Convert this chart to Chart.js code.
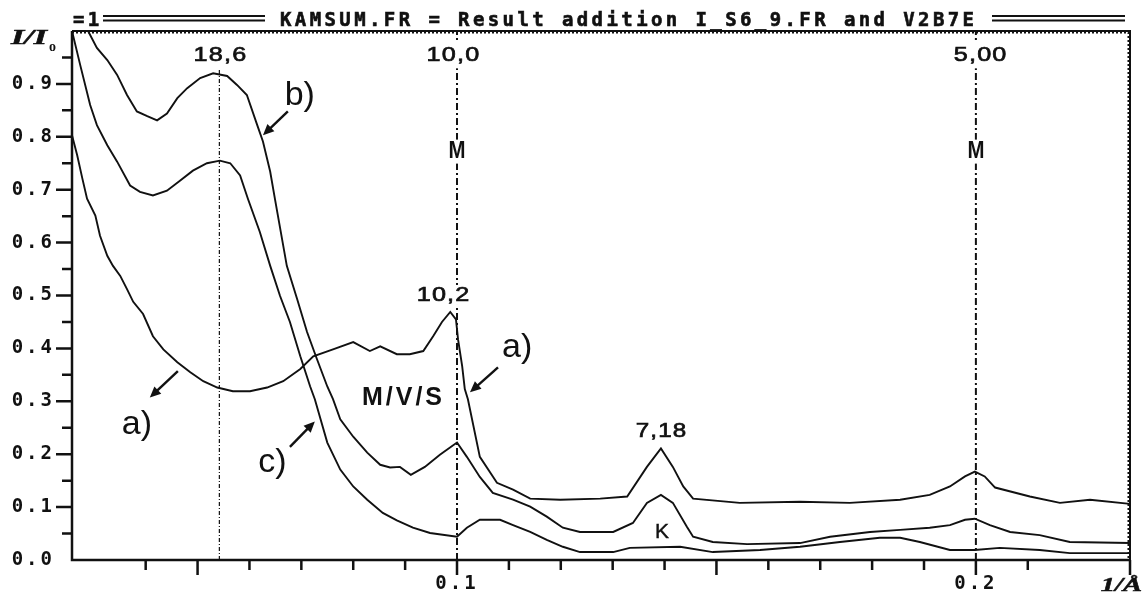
<!DOCTYPE html>
<html>
<head>
<meta charset="utf-8">
<script src="https://cdn.jsdelivr.net/npm/chart.js@4.4.0/dist/chart.umd.min.js"></script>
<style>
  html, body { margin: 0; padding: 0; background: #fff; }
  #wrap { width: 1144px; height: 593px; position: relative; }
</style>
</head>
<body>
<div id="wrap"><canvas id="xrd"></canvas></div>
<script>
// scan a) : 1/d (1/A) and I/Io
const qA = [0.0258, 0.0268, 0.0278, 0.0287, 0.0303, 0.0312, 0.0326, 0.0337, 0.0351, 0.0364, 0.0376, 0.0395,
  0.0414, 0.0434, 0.0461, 0.0486, 0.0511, 0.0538, 0.0568, 0.0601, 0.0634, 0.0665, 0.0698, 0.0723, 0.0761,
  0.0800, 0.0832, 0.0852, 0.0884, 0.0909, 0.0935, 0.0954, 0.0971, 0.0987, 0.0998, 0.1002, 0.1010, 0.1015,
  0.1021, 0.1044, 0.1077, 0.1108, 0.1141, 0.1199, 0.1276, 0.1328, 0.1366, 0.1393, 0.1416, 0.1436, 0.1455,
  0.1545, 0.1661, 0.1757, 0.1854, 0.1911, 0.1950, 0.1979, 0.1998, 0.2017, 0.2037, 0.2104, 0.2162, 0.2220, 0.2297];
const iA = [0.803, 0.765, 0.721, 0.683, 0.651, 0.613, 0.575, 0.556, 0.537, 0.512, 0.488, 0.465,
  0.423, 0.398, 0.374, 0.355, 0.338, 0.326, 0.319, 0.319, 0.326, 0.338, 0.361, 0.385, 0.398,
  0.412, 0.395, 0.404, 0.389, 0.389, 0.395, 0.423, 0.450, 0.469, 0.455, 0.417, 0.366, 0.323,
  0.304, 0.195, 0.146, 0.133, 0.116, 0.114, 0.116, 0.120, 0.176, 0.211, 0.176, 0.139, 0.116,
  0.108, 0.110, 0.108, 0.114, 0.123, 0.139, 0.158, 0.167, 0.158, 0.137, 0.120, 0.108, 0.114, 0.106];

// scan b)
const qB = [0.0258, 0.0289, 0.0306, 0.0326, 0.0345, 0.0364, 0.0383, 0.0403, 0.0422, 0.0441, 0.0461, 0.0480,
  0.0505, 0.0530, 0.0557, 0.0576, 0.0595, 0.0615, 0.0626, 0.0640, 0.0649, 0.0672, 0.0692, 0.0711, 0.0730,
  0.0750, 0.0761, 0.0775, 0.0800, 0.0827, 0.0852, 0.0871, 0.0890, 0.0911, 0.0938, 0.0967, 0.1000, 0.1019,
  0.1044, 0.1069, 0.1108, 0.1141, 0.1173, 0.1204, 0.1237, 0.1301, 0.1339, 0.1366, 0.1393, 0.1416, 0.1443,
  0.1455, 0.1493, 0.1559, 0.1661, 0.1719, 0.1796, 0.1854, 0.1911, 0.1950, 0.1979, 0.1998, 0.2027, 0.2066,
  0.2123, 0.2181, 0.2297];
const iB = [1.000, 1.000, 0.968, 0.945, 0.917, 0.879, 0.848, 0.839, 0.831, 0.844, 0.873, 0.892,
  0.911, 0.920, 0.915, 0.898, 0.879, 0.822, 0.791, 0.734, 0.683, 0.556, 0.493, 0.431, 0.380,
  0.328, 0.304, 0.266, 0.233, 0.203, 0.180, 0.175, 0.176, 0.161, 0.176, 0.199, 0.222, 0.195,
  0.157, 0.127, 0.114, 0.101, 0.082, 0.061, 0.053, 0.053, 0.070, 0.108, 0.123, 0.108, 0.063,
  0.044, 0.034, 0.030, 0.032, 0.044, 0.053, 0.057, 0.061, 0.066, 0.076, 0.078, 0.066, 0.053,
  0.047, 0.034, 0.032];

// scan c)
const qC = [0.0258, 0.0274, 0.0293, 0.0306, 0.0326, 0.0345, 0.0370, 0.0389, 0.0414, 0.0441, 0.0466, 0.0491,
  0.0518, 0.0543, 0.0563, 0.0582, 0.0597, 0.0620, 0.0640, 0.0659, 0.0678, 0.0698, 0.0717, 0.0726, 0.0750,
  0.0775, 0.0800, 0.0827, 0.0857, 0.0884, 0.0915, 0.0948, 0.1000, 0.1019, 0.1044, 0.1083, 0.1108, 0.1141,
  0.1173, 0.1204, 0.1237, 0.1301, 0.1333, 0.1430, 0.1493, 0.1584, 0.1661, 0.1738, 0.1815, 0.1854, 0.1892,
  0.1950, 0.1998, 0.2046, 0.2123, 0.2181, 0.2297];
const iC = [1.000, 0.935, 0.860, 0.822, 0.784, 0.753, 0.708, 0.696, 0.689, 0.698, 0.717, 0.736,
  0.750, 0.755, 0.750, 0.727, 0.683, 0.620, 0.556, 0.499, 0.450, 0.385, 0.328, 0.304, 0.222,
  0.171, 0.139, 0.114, 0.089, 0.075, 0.061, 0.051, 0.044, 0.061, 0.076, 0.076, 0.066, 0.053,
  0.038, 0.025, 0.015, 0.015, 0.023, 0.025, 0.015, 0.019, 0.025, 0.034, 0.042, 0.042, 0.034,
  0.019, 0.019, 0.023, 0.019, 0.013, 0.013];

// d-spacing marker lines (position in 1/A, label in A)
const markerQ = [0.0542, 0.1, 0.2];
const markerTop = [0.93, 1.0, 1.0];
const markerLabels = ['18,6', '10,0', '5,00'];

const xTickValues = [0.1, 0.2];
const xTickLabels = ['0.1', '0.2'];
const yTickLabels = ['0.0', '0.1', '0.2', '0.3', '0.4', '0.5', '0.6', '0.7', '0.8', '0.9'];

const titleText = 'KAMSUM.FR = Result addition I_S6_9.FR and V2B7E';

function pts(qs, is) { return qs.map(function (q, k) { return { x: q, y: is[k] }; }); }

const INK = '#111';
const monoFont = 'bold 19px "DejaVu Sans Mono"';

// text annotations, in data coordinates (sx = horizontal stretch, bold = extra stroke)
const numFont = '21px "Liberation Sans"';
const notes = [
  { t: markerLabels[0], q: 0.0543, i: 0.954, font: numFont, sx: 1.2, ls: 1, bold: 0.7, box: 26 },
  { t: markerLabels[1], q: 0.0992, i: 0.954, font: numFont, sx: 1.2, ls: 1, bold: 0.7, box: 26 },
  { t: markerLabels[2], q: 0.2008, i: 0.954, font: numFont, sx: 1.2, ls: 1, bold: 0.7, box: 26 },
  { t: 'M', q: 0.1, i: 0.772, font: 'bold 24px "Liberation Sans"', sx: 0.85, box: 24 },
  { t: 'M', q: 0.2, i: 0.772, font: 'bold 24px "Liberation Sans"', sx: 0.85, box: 24 },
  { t: '10,2', q: 0.0973, i: 0.501, font: numFont, sx: 1.2, ls: 1, bold: 0.7, box: 20 },
  { t: 'M/V/S', q: 0.0894, i: 0.3055, font: 'bold 25px "Liberation Sans"', ls: 3 },
  { t: '7,18', q: 0.1393, i: 0.243, font: numFont, sx: 1.15, ls: 1, bold: 0.7 },
  { t: 'K', q: 0.1395, i: 0.053, font: '21px "Liberation Sans"', bold: 0.4 },
  { t: 'b)', q: 0.0697, i: 0.8786, font: '34px "Liberation Sans"' },
  { t: 'a)', q: 0.1116, i: 0.4023, font: '34px "Liberation Sans"' },
  { t: 'a)', q: 0.0383, i: 0.2562, font: '34px "Liberation Sans"' },
  { t: 'c)', q: 0.0644, i: 0.184, font: '34px "Liberation Sans"' }
];
const arrows = [
  [0.0674, 0.848, 0.0626, 0.803],
  [0.1079, 0.364, 0.1025, 0.317],
  [0.0462, 0.357, 0.0408, 0.307],
  [0.0678, 0.214, 0.0726, 0.262]
];

function onStep(v, step) { const k = v / step; return Math.abs(k - Math.round(k)) < 1e-6; }

function stretchText(ctx, t, x, y, s, bold) {
  ctx.save();
  ctx.translate(x, y);
  ctx.scale(s, 1);
  ctx.fillText(t, 0, 0);
  if (bold) { ctx.lineWidth = bold; ctx.strokeText(t, 0, 0); }
  ctx.restore();
}

const decor = {
  id: 'decor',
  beforeDraw(chart) { chart.ctx.letterSpacing = '3px'; },
  afterDatasetsDraw(chart) {
    const ctx = chart.ctx, sx = chart.scales.x, sy = chart.scales.y;
    ctx.save();
    notes.forEach(function (n) {
      const x = sx.getPixelForValue(n.q), y = sy.getPixelForValue(n.i);
      const ls = n.ls || 0, s = n.sx || 1;
      ctx.font = n.font;
      ctx.letterSpacing = ls + 'px';
      ctx.textAlign = 'center';
      ctx.textBaseline = 'middle';
      if (n.box) {
        const w = ctx.measureText(n.t).width * s;
        ctx.fillStyle = '#fff';
        ctx.fillRect(x - w / 2 - 2, y - n.box / 2, w + 4, n.box);
      }
      ctx.fillStyle = INK; ctx.strokeStyle = INK;
      stretchText(ctx, n.t, x + ls * s / 2, y, s, n.bold);
    });
    ctx.strokeStyle = INK; ctx.fillStyle = INK; ctx.lineWidth = 2.4;
    arrows.forEach(function (a) {
      const x1 = sx.getPixelForValue(a[0]), y1 = sy.getPixelForValue(a[1]);
      const x2 = sx.getPixelForValue(a[2]), y2 = sy.getPixelForValue(a[3]);
      const ang = Math.atan2(y2 - y1, x2 - x1);
      ctx.beginPath(); ctx.moveTo(x1, y1);
      ctx.lineTo(x2 - 6 * Math.cos(ang), y2 - 6 * Math.sin(ang)); ctx.stroke();
      ctx.beginPath(); ctx.moveTo(x2, y2);
      ctx.lineTo(x2 - 11 * Math.cos(ang) + 5 * Math.sin(ang), y2 - 11 * Math.sin(ang) - 5 * Math.cos(ang));
      ctx.lineTo(x2 - 11 * Math.cos(ang) - 5 * Math.sin(ang), y2 - 11 * Math.sin(ang) + 5 * Math.cos(ang));
      ctx.closePath(); ctx.fill();
    });
    ctx.restore();
  },
  afterDraw(chart) {
    const ctx = chart.ctx, a = chart.chartArea, sx = chart.scales.x, sy = chart.scales.y;
    ctx.save();
    ctx.letterSpacing = '0px';
    ctx.strokeStyle = INK; ctx.fillStyle = INK;
    // axes
    ctx.lineWidth = 2.5;
    ctx.beginPath();
    ctx.moveTo(a.left, a.top); ctx.lineTo(a.left, a.bottom); ctx.lineTo(a.right, a.bottom);
    ctx.moveTo(a.right, a.bottom); ctx.lineTo(a.right, a.bottom + 15);
    ctx.stroke();
    // dotted frame top/right
    ctx.lineWidth = 2;
    ctx.beginPath(); ctx.moveTo(a.left, a.top); ctx.lineTo(a.right, a.top); ctx.lineTo(a.right, a.bottom); ctx.stroke();
    ctx.setLineDash([2, 2]);
    ctx.beginPath(); ctx.moveTo(a.left, a.top + 1.5); ctx.lineTo(a.right - 1.5, a.top + 1.5); ctx.lineTo(a.right - 1.5, a.bottom); ctx.stroke();
    ctx.setLineDash([]);
    // tick marks
    ctx.lineWidth = 2.5;
    ctx.beginPath();
    sy.ticks.forEach(function (t) {
      if (!onStep(t.value, 0.05) || t.value > 0.96 || t.value < 0.01) return;
      const y = sy.getPixelForValue(t.value);
      const len = onStep(t.value, 0.1) ? 16 : 10;
      ctx.moveTo(a.left - len, y); ctx.lineTo(a.left, y);
    });
    sx.ticks.forEach(function (t) {
      if (!onStep(t.value, 0.01)) return;
      const x = sx.getPixelForValue(t.value);
      const len = onStep(t.value, 0.05) ? 15 : 10;
      ctx.moveTo(x, a.bottom); ctx.lineTo(x, a.bottom + len);
    });
    ctx.stroke();
    // title bar
    ctx.font = monoFont; ctx.letterSpacing = '3.4px';
    ctx.textAlign = 'left'; ctx.textBaseline = 'alphabetic';
    ctx.lineWidth = 0.6;
    ctx.fillText('=1', 73, 26); ctx.strokeText('=1', 73, 26);
    ctx.fillText(titleText, 280, 26); ctx.strokeText(titleText, 280, 26);
    ctx.lineWidth = 1.8;
    ctx.beginPath();
    [[103, 265], [992, 1125]].forEach(function (s) {
      ctx.moveTo(s[0], 16); ctx.lineTo(s[1], 16);
      ctx.moveTo(s[0], 20.5); ctx.lineTo(s[1], 20.5);
    });
    ctx.stroke();
    // axis titles
    ctx.letterSpacing = '0px';
    ctx.font = 'italic bold 20px "Liberation Serif"';
    stretchText(ctx, 'I/I', 11, 44, 1.7, 0.5);
    ctx.font = 'bold 14px "Liberation Serif"';
    ctx.fillText('o', 49, 51);
    ctx.font = 'italic bold 19px "Liberation Serif"';
    ctx.textAlign = 'right';
    stretchText(ctx, '1/\u00C5', 1142, 591, 1.5, 0.5);
    ctx.restore();
  }
};

function curve(qs, is) {
  return { data: pts(qs, is), borderColor: INK, borderWidth: 1.9, pointRadius: 0, tension: 0, fill: false };
}
function marker(k, dash, w) {
  return { data: [{ x: markerQ[k], y: 0 }, { x: markerQ[k], y: markerTop[k] }], borderColor: INK,
    borderWidth: w, borderDash: dash, pointRadius: 0, fill: false };
}

const tickFont = { family: 'DejaVu Sans Mono', size: 19, weight: 'bold' };

new Chart(document.getElementById('xrd'), {
  type: 'line',
  data: {
    datasets: [
      marker(0, [4, 2, 1, 2], 1.2),
      marker(1, [7, 3, 2, 3], 2),
      marker(2, [7, 3, 2, 3], 2),
      curve(qA, iA),
      curve(qB, iB),
      curve(qC, iC)
    ]
  },
  options: {
    responsive: true,
    maintainAspectRatio: false,
    animation: false,
    events: [],
    layout: { padding: { top: 31, right: 14, left: 0, bottom: 0 } },
    plugins: { legend: { display: false }, tooltip: { enabled: false } },
    scales: {
      x: {
        type: 'linear', min: 0.0258, max: 0.2297,
        grid: { display: false, drawTicks: false },
        border: { display: false },
        afterFit: function (s) { s.height = 33; },
        ticks: {
          stepSize: 0.01, autoSkip: false, maxRotation: 0, padding: 13, color: INK, font: tickFont,
          callback: function (v) {
            for (let k = 0; k < xTickValues.length; k++) if (Math.abs(v - xTickValues[k]) < 1e-6) return xTickLabels[k];
            return '';
          }
        }
      },
      y: {
        min: 0, max: 1.0,
        grid: { display: false, drawTicks: false },
        border: { display: false },
        afterFit: function (s) { s.width = 72; },
        ticks: {
          stepSize: 0.05, autoSkip: false, padding: 17, color: INK, font: tickFont,
          callback: function (v) {
            const k = Math.round(v * 10);
            if (onStep(v, 0.1) && k >= 0 && k <= 9) return yTickLabels[k];
            return '';
          }
        }
      }
    }
  },
  plugins: [decor]
});
</script>
</body>
</html>
